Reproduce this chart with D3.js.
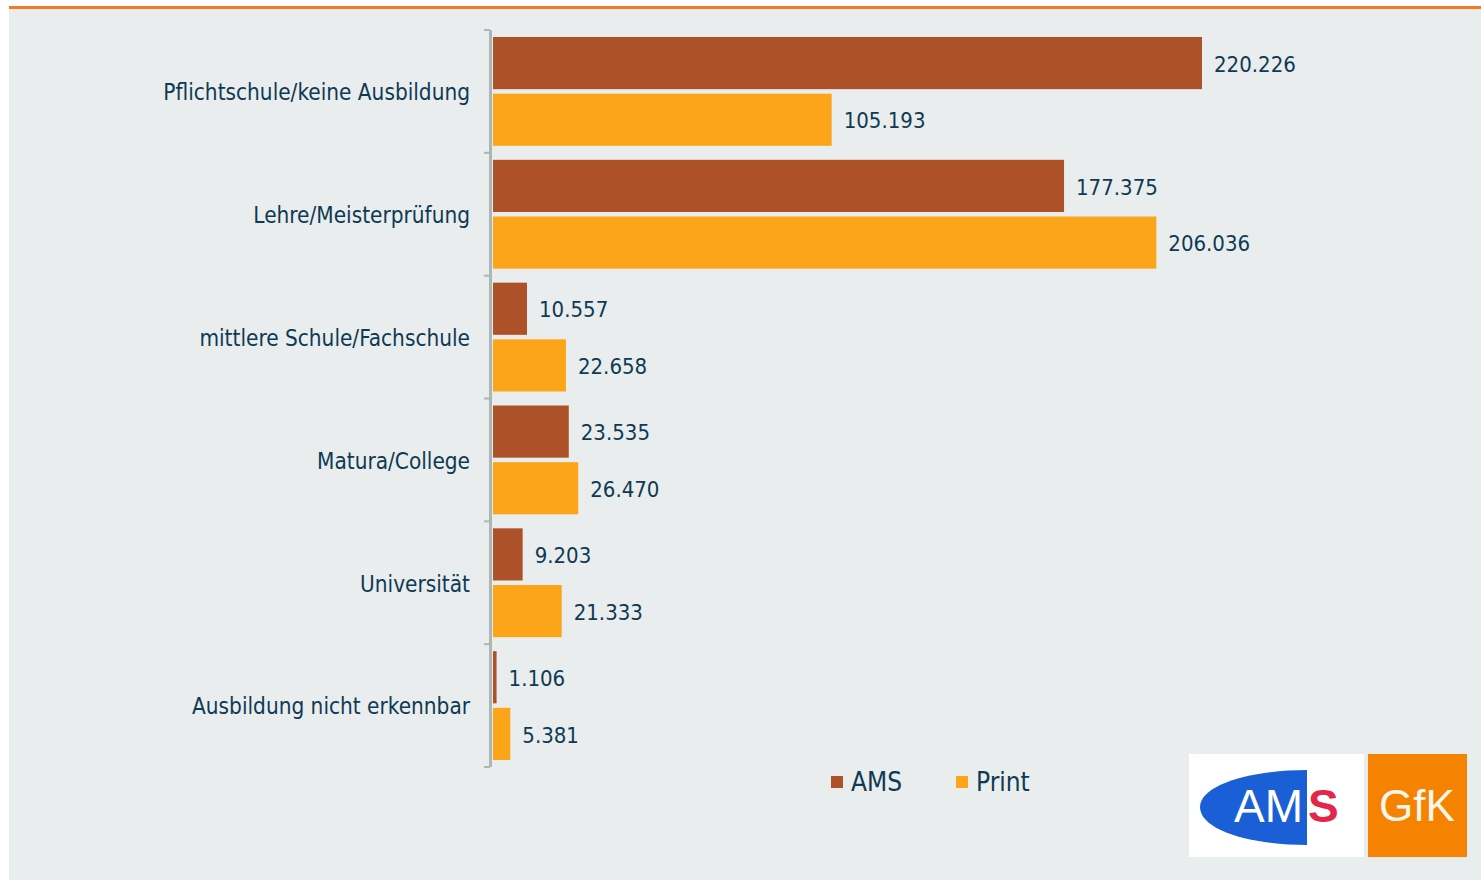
<!DOCTYPE html>
<html>
<head>
    <meta charset="utf-8">
    <title>AMS vs Print nach Ausbildung</title>
    <script src="https://cdn.jsdelivr.net/npm/d3@7"></script>
    <style>
        html, body { margin: 0; padding: 0; background: #fff; }
        svg { display: block; }
        .cat { font-family: "DejaVu Sans Condensed", "DejaVu Sans", sans-serif; font-size: 22.4px; fill: #0e3a53; }
        .val { font-family: "DejaVu Sans Condensed", "DejaVu Sans", sans-serif; font-size: 22px; fill: #0e3a53; }
        .leg { font-family: "DejaVu Sans Condensed", "DejaVu Sans", sans-serif; font-size: 26px; fill: #0e3a53; }
    </style>
</head>
<body>
<svg id="chart"></svg>
<script>
    var categories = ["Pflichtschule/keine Ausbildung", "Lehre/Meisterprüfung", "mittlere Schule/Fachschule",
                      "Matura/College", "Universität", "Ausbildung nicht erkennbar"];
    var series = ["AMS", "Print"];
    var amsValues = [220226, 177375, 10557, 23535, 9203, 1106];
    var printValues = [105193, 206036, 22658, 26470, 21333, 5381];
    var colors = ["#ad5128", "#fca519"];

    var w = 1481, h = 880;
    var svg = d3.select("#chart").attr("width", w).attr("height", h);

    // background panel + orange top rule
    svg.append("rect").attr("x", 9).attr("y", 9).attr("width", w - 9).attr("height", h - 9).attr("fill", "#e9edee");
    svg.append("rect").attr("x", 9).attr("y", 6).attr("width", w - 9).attr("height", 3).attr("fill", "#f47b20");

    var x = d3.scaleLinear().domain([0, 220226]).range([493, 1202]);
    var y = d3.scaleBand().domain(categories).range([30, 767]);
    var ySub = d3.scaleBand().domain(series).range([7, y.bandwidth() - 7]).paddingInner(0.08);

    var data = categories.map(function (c, i) {
        return {cat: c, vals: [amsValues[i], printValues[i]]};
    });

    // axis line with boundary ticks
    var axis = svg.append("g").attr("stroke", "#aab7b5");
    axis.append("line").attr("x1", 490.5).attr("x2", 490.5).attr("y1", 30).attr("y2", 767).attr("stroke-width", 3);
    var bounds = categories.map(function (c) { return y(c); }).concat([767]);
    axis.selectAll(".tk").data(bounds).enter().append("line")
        .attr("x1", 484).attr("x2", 490).attr("y1", function (d) { return d; }).attr("y2", function (d) { return d; })
        .attr("stroke-width", 2);

    var groups = svg.selectAll(".grp").data(data).enter().append("g")
        .attr("transform", function (d) { return "translate(0," + y(d.cat) + ")"; });

    groups.append("text").attr("class", "cat")
        .attr("x", 470).attr("y", y.bandwidth() / 2 + 1).attr("dy", "0.35em").attr("text-anchor", "end")
        .text(function (d) { return d.cat; });

    groups.selectAll("rect").data(function (d) {
        return d.vals.map(function (v, j) { return {s: series[j], v: v, j: j}; });
    }).enter().append("rect")
        .attr("x", x(0))
        .attr("y", function (d) { return ySub(d.s); })
        .attr("height", ySub.bandwidth())
        .attr("width", function (d) { return Math.max(2, x(d.v) - x(0)); })
        .attr("fill", function (d) { return colors[d.j]; });

    groups.selectAll(".val").data(function (d) {
        return d.vals.map(function (v, j) { return {s: series[j], v: v}; });
    }).enter().append("text").attr("class", "val")
        .attr("x", function (d) { return x(d.v) + 12; })
        .attr("y", function (d) { return ySub(d.s) + ySub.bandwidth() / 2 + 1; })
        .attr("dy", "0.35em")
        .text(function (d) { return d3.format(",")(d.v).replace(/,/g, "."); });

    // legend
    var legX = [831, 956];
    series.forEach(function (s, i) {
        svg.append("rect").attr("x", legX[i]).attr("y", 776).attr("width", 12).attr("height", 12).attr("fill", colors[i]);
        svg.append("text").attr("class", "leg").attr("x", legX[i] + 20).attr("y", 782).attr("dy", "0.35em").text(s);
    });

    // logos
    var logo = svg.append("g");
    logo.append("rect").attr("x", 1189).attr("y", 754).attr("width", 175).attr("height", 103).attr("fill", "#fff");
    logo.append("path").attr("d", "M1307,770 L1307,845 C1250,845 1200,830 1200,807 C1200,785 1250,770 1307,770 Z").attr("fill", "#1a5fd6");
    logo.append("text").attr("x", 1234).attr("y", 822).attr("font-family", "Liberation Sans, Arial, sans-serif")
        .attr("font-size", 46).attr("fill", "#fff").text("AM");
    logo.append("text").attr("x", 1308).attr("y", 822).attr("font-family", "Liberation Sans, Arial, sans-serif")
        .attr("font-size", 46).attr("font-weight", "bold").attr("fill", "#e3264a").text("S");
    logo.append("rect").attr("x", 1368).attr("y", 754).attr("width", 99).attr("height", 103).attr("fill", "#f58200");
    logo.append("text").attr("x", 1417).attr("y", 821).attr("text-anchor", "middle").attr("font-family", "Liberation Sans, Arial, sans-serif")
        .attr("font-size", 44).attr("fill", "#fff6ea").text("GfK");
</script>
</body>
</html>
